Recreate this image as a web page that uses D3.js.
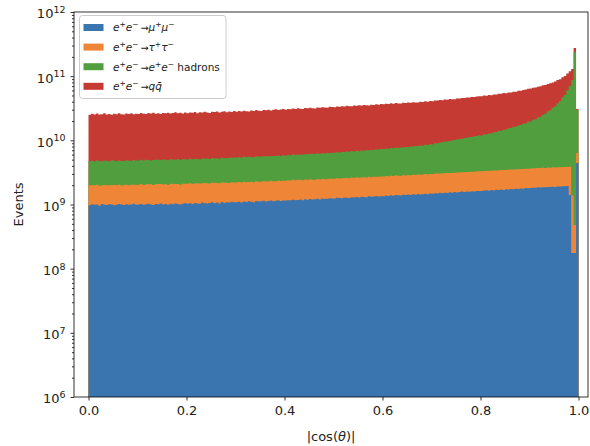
<!DOCTYPE html>
<html>
<head>
<meta charset="utf-8">
<script src="https://cdn.jsdelivr.net/npm/d3@7"></script>
<style>
  body { margin: 0; background: #fff; }
  text { font-family: "DejaVu Sans", sans-serif; }
</style>
</head>
<body>
<svg id="chart"></svg>
<script>
// series, in stacking order (bottom first)
var seriesKeys = ["mumu", "tautau", "eehad", "qqbar"];
var seriesColors = ["#3b75af", "#ef8536", "#519e3e", "#c53a32"];

// events per bin of |cos(theta)|, 200 bins from 0 to 1, in units of 1e7
var unit = 1e7;
var mumu = [
  97,101,99,100,96,102,99,98,101,100,97,99,102,100,98,101,99,100,103,99,
  100,102,99,101,103,100,98,102,101,104,100,102,99,103,101,104,102,100,103,105,
  103,105,102,106,104,103,107,105,104,106,108,105,107,104,109,106,108,107,110,108,
  108,110,107,111,109,112,110,108,113,111,112,114,111,113,115,112,114,116,113,115,
  115,117,116,119,117,118,120,117,121,119,122,120,121,123,120,124,122,123,125,124,
  124,127,126,125,129,127,126,130,128,131,128,132,131,130,134,132,133,136,133,135,
  135,138,136,139,137,141,139,138,142,140,143,141,144,142,146,143,145,147,145,148,
  147,150,149,152,150,153,151,155,153,156,154,157,159,156,160,158,161,159,163,162,
  163,165,167,164,168,166,170,168,171,169,173,172,174,173,176,175,178,176,180,179,
  181,183,182,185,184,186,185,188,187,189,188,191,190,193,192,194,141,17.5,17.5,444
];
var tautau = [
  102,99,101,104,100,98,103,101,99,102,105,100,101,98,103,102,100,104,101,103,
  103,106,102,105,104,107,103,106,108,104,105,107,103,106,109,105,107,104,108,106,
  107,110,108,106,111,109,108,112,110,107,111,113,109,110,112,114,111,110,113,112,
  112,115,113,116,114,112,117,115,118,116,114,119,117,116,120,118,117,121,119,120,
  119,122,120,123,121,124,122,121,125,123,126,124,123,127,125,128,126,125,129,127,
  127,130,128,131,129,132,130,133,131,134,132,131,135,133,136,134,137,135,138,137,
  138,141,139,142,140,144,142,141,145,143,146,144,148,146,147,149,148,151,149,152,
  151,153,155,152,156,154,158,156,159,157,161,159,160,163,161,164,162,166,164,167,
  166,169,167,171,169,172,170,174,173,175,174,177,176,178,177,180,179,182,180,183,
  182,185,184,186,185,188,186,189,188,190,189,191,190,192,191,193,245,122,30.5,191
];
var eehad = [
  272,279,268,281,276,270,283,277,274,286,279,271,284,280,276,288,281,277,290,283,
  281,289,284,292,286,280,294,288,291,285,297,290,287,299,293,289,301,294,298,296,
  293,301,297,304,299,295,308,302,306,300,311,305,309,303,315,310,307,318,312,319,
  314,322,318,326,321,329,324,320,332,327,335,330,338,334,331,342,337,345,340,348,
  343,352,348,357,351,361,356,364,359,368,363,372,367,376,371,381,377,386,382,392,
  389,398,394,404,399,410,405,416,411,422,417,429,424,436,431,443,439,452,447,461,
  458,470,465,477,473,486,481,494,490,504,499,514,509,525,521,538,534,552,550,572,
  571,594,600,621,624,648,651,677,682,706,711,737,741,770,775,803,808,838,845,872,
  860,901,905,948,955,1002,1010,1061,1068,1122,1131,1192,1203,1270,1284,1358,1375,1460,1485,1580,
  1610,1720,1765,1895,1960,2140,2235,2450,2580,2840,3020,3400,3710,4260,4720,5650,6700,8570,23750,2340
];
var qqbar = [
  2030,2110,2070,2140,2050,2090,2160,2060,2100,2020,2120,2080,2150,2070,2040,2130,2100,2170,2060,2110,
  2090,2160,2110,2070,2180,2130,2200,2100,2150,2080,2170,2140,2210,2120,2160,2230,2140,2190,2110,2200,
  2150,2210,2180,2250,2140,2230,2190,2270,2200,2160,2260,2230,2290,2200,2250,2310,2220,2280,2240,2320,
  2250,2320,2280,2350,2300,2260,2370,2330,2400,2340,2310,2410,2380,2440,2350,2420,2470,2400,2450,2490,
  2420,2490,2460,2530,2480,2550,2510,2470,2580,2540,2600,2560,2530,2630,2590,2650,2610,2580,2690,2660,
  2640,2710,2690,2750,2700,2780,2740,2720,2810,2770,2840,2790,2860,2820,2800,2890,2860,2930,2880,2950,
  2910,2980,2950,3020,2970,3040,3000,2980,3080,3030,3100,3060,3130,3090,3070,3170,3130,3200,3160,3240,
  3200,3280,3260,3330,3290,3370,3340,3410,3380,3360,3460,3430,3510,3480,3550,3520,3600,3570,3650,3680,
  3660,3750,3720,3800,3770,3860,3840,3920,3890,3980,3960,4040,4010,4110,4080,4190,4170,4260,4330,4420,
  4460,4530,4500,4590,4620,4680,4650,4740,4800,4760,4880,4930,4900,4990,4960,5000,4830,4220,3700,100
];

var xTicks = [0, 0.2, 0.4, 0.6, 0.8, 1.0];
var yTickExp = [6, 7, 8, 9, 10, 11, 12];

// legend labels: pieces of [text, style] with style i = italic, s = superscript, r = roman
var legendLabels = [
  [["e","i"],["+","s"],["e","i"],["\u2212","s"],["\u2192","r"],["\u03bc","i"],["+","s"],["\u03bc","i"],["\u2212","s"]],
  [["e","i"],["+","s"],["e","i"],["\u2212","s"],["\u2192","r"],["\u03c4","i"],["+","s"],["\u03c4","i"],["\u2212","s"]],
  [["e","i"],["+","s"],["e","i"],["\u2212","s"],["\u2192","r"],["e","i"],["+","s"],["e","i"],["\u2212","s"],[" hadrons","r"]],
  [["e","i"],["+","s"],["e","i"],["\u2212","s"],["\u2192","r"],["q","i"],["q\u0304","i"]]
];

var svgWidth = 590;
var svgHeight = 446;
var frame = {left: 74, right: 588, top: 12, bottom: 397};
var nBins = mumu.length;

var svg = d3.select("#chart")
  .attr("width", svgWidth)
  .attr("height", svgHeight);

var xScale = d3.scaleLinear().domain([0, 1]).range([88.5, 578.5]);
var yScale = d3.scaleLog().domain([1e6, 1e12]).range([frame.bottom, frame.top]);

// build the table and stack it
var columns = {mumu: mumu, tautau: tautau, eehad: eehad, qqbar: qqbar};
var table = d3.range(nBins).map(function (i) {
  var row = {x0: i / nBins};
  seriesKeys.forEach(function (k) { row[k] = columns[k][i] * unit; });
  return row;
});
var stacked = d3.stack().keys(seriesKeys)(table);

svg.append("clipPath").attr("id", "plotclip")
  .append("rect")
  .attr("x", frame.left).attr("y", frame.top)
  .attr("width", frame.right - frame.left).attr("height", frame.bottom - frame.top);

var area = d3.area()
  .curve(d3.curveStepAfter)
  .x(d => xScale(d.x))
  .y0(yScale(1e6))
  .y1(d => yScale(d.top));

var histGroup = svg.append("g").attr("clip-path", "url(#plotclip)");

// paint the cumulative tops from largest to smallest
stacked.slice().reverse().forEach(function (layer) {
  var pts = layer.map((d, i) => ({x: table[i].x0, top: d[1]}));
  pts.push({x: 1, top: layer[nBins - 1][1]});
  histGroup.append("path")
    .attr("d", area(pts))
    .attr("fill", seriesColors[layer.index]);
});

// axes
var xAxis = svg.append("g")
  .attr("transform", `translate(0, ${frame.bottom})`)
  .call(d3.axisBottom(xScale).tickValues(xTicks).tickFormat(d3.format(".1f"))
    .tickSize(3.5).tickPadding(5.5));

var yMinor = [];
yTickExp.slice(0, -1).forEach(function (e) {
  for (var m = 2; m <= 9; m++) yMinor.push(m * Math.pow(10, e));
});

svg.append("g")
  .attr("transform", `translate(${frame.left}, 0)`)
  .call(d3.axisLeft(yScale).tickValues(yMinor).tickFormat("").tickSize(2));

var yAxis = svg.append("g")
  .attr("transform", `translate(${frame.left}, 0)`)
  .call(d3.axisLeft(yScale).tickValues(yTickExp.map(e => Math.pow(10, e)))
    .tickSize(3.5).tickPadding(5));

yAxis.selectAll(".tick text")
  .text(null)
  .attr("dy", "0.45em")
  .each(function (d) {
    var t = d3.select(this);
    t.append("tspan").text("10");
    t.append("tspan").attr("dy", -5.5).attr("font-size", 9.5).text(Math.round(Math.log10(d)));
  });

svg.selectAll(".domain").remove();
svg.selectAll(".tick line").attr("stroke", "#000").attr("stroke-width", 0.8);
svg.selectAll(".tick text").attr("font-size", 13).attr("fill", "#222")
  .attr("font-family", "DejaVu Sans");

svg.append("rect")
  .attr("x", frame.left).attr("y", frame.top)
  .attr("width", frame.right - frame.left).attr("height", frame.bottom - frame.top)
  .attr("fill", "none").attr("stroke", "#000").attr("stroke-width", 0.8);

// axis labels
var xLabel = svg.append("text")
  .attr("x", (frame.left + frame.right) / 2)
  .attr("y", 441)
  .attr("text-anchor", "middle")
  .attr("font-size", 13)
  .attr("fill", "#222");
xLabel.append("tspan").text("|cos(");
xLabel.append("tspan").attr("font-style", "italic").text("\u03b8");
xLabel.append("tspan").text(")|");

svg.append("text")
  .attr("transform", `translate(23, ${(frame.top + frame.bottom) / 2}) rotate(-90)`)
  .attr("text-anchor", "middle")
  .attr("font-size", 13)
  .attr("fill", "#222")
  .text("Events");

// legend
var legend = svg.append("g");
legend.append("rect")
  .attr("x", 79.5).attr("y", 15.5)
  .attr("width", 146.5).attr("height", 83)
  .attr("rx", 3)
  .attr("fill", "#fff").attr("fill-opacity", 0.8)
  .attr("stroke", "#ccc").attr("stroke-width", 1);

legendLabels.forEach(function (pieces, i) {
  var cy = 27.5 + i * 19.6;
  legend.append("rect")
    .attr("x", 83.5).attr("y", cy - 3.5)
    .attr("width", 20).attr("height", 7)
    .attr("fill", seriesColors[i]);
  var txt = legend.append("text")
    .attr("x", 113).attr("y", cy + 3.8)
    .attr("font-size", 10.5)
    .attr("fill", "#222");
  var raised = false;
  pieces.forEach(function (p) {
    var ts = txt.append("tspan").text(p[0]);
    if (p[1] === "s") {
      ts.attr("font-size", 7.5).attr("dy", raised ? 0 : -4);
      raised = true;
    } else {
      if (raised) { ts.attr("dy", 4); raised = false; }
      if (p[1] === "i") ts.attr("font-style", "italic");
      if (p[0] === "\u2192") ts.attr("dx", 2).attr("font-size", 9.5);
    }
  });
});
</script>
</body>
</html>
